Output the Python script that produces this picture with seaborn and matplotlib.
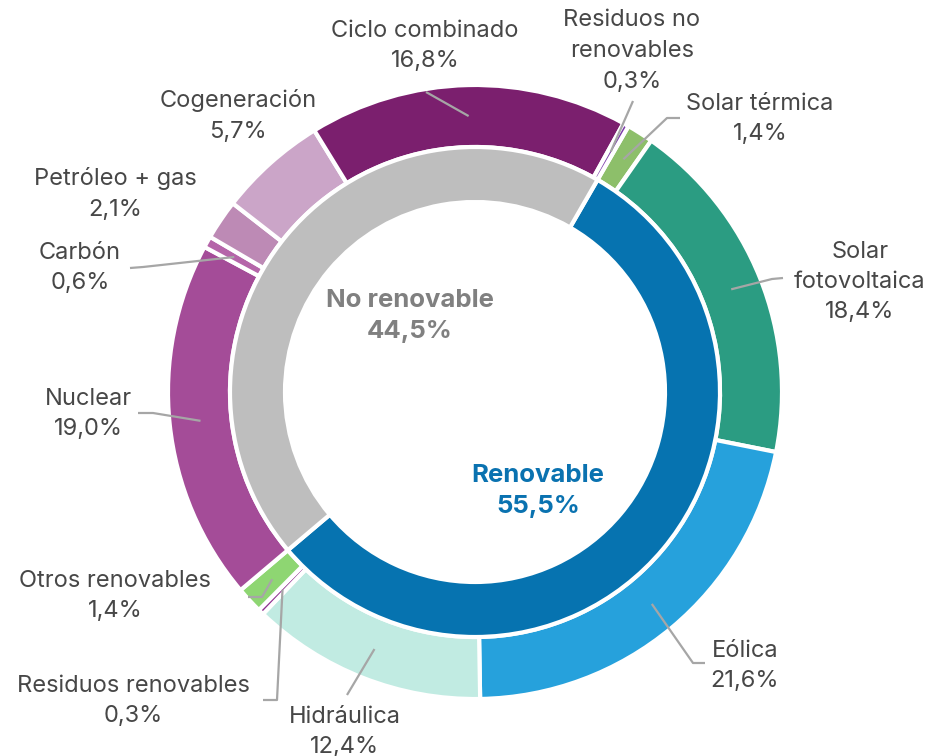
import numpy as np
import matplotlib.pyplot as plt
import seaborn as sns

# outer ring: generation mix (% of total), clockwise from "Solar térmica"
outer_labels = ["Solar térmica", "Solar\nfotovoltaica", "Eólica", "Hidráulica",
                "Residuos renovables", "Otros renovables", "Nuclear", "Carbón",
                "Petróleo + gas", "Cogeneración", "Ciclo combinado",
                "Residuos no\nrenovables"]
outer_values = [1.4, 18.4, 21.6, 12.4, 0.3, 1.4, 19.0, 0.6, 2.1, 5.7, 16.8, 0.3]
outer_colors = ["#8dbf6a", "#2b9c82", "#26a1dc", "#c1ebe2", "#8e2f8e", "#8ed672",
                "#a44c98", "#b565a9", "#bd8ab5", "#cba5c8", "#7b1f6e", "#7a3aa8"]

# inner ring
inner_labels = ["Renovable", "No renovable"]
inner_values = [55.5, 44.5]
inner_colors = ["#0673b0", "#bebebe"]
inner_text_colors = ["#0a72b0", "#808080"]

W, H = 948, 756
CX, CY = 475, 392          # centre in pixel coords (y from top)

def px(x, y):
    return x, H - y

# label layout: text centre, and extra leader points from text towards wedge
label_pos = [(760, 119), (860, 282), (745, 666), (345, 732), (133, 701), (115, 596),
             (88, 414), (80, 268), (115, 194), (238, 116), (425, 46), (632, 51)]
leader_pts = [[(680, 118), (667, 118)],
              [(783, 278), (772, 279)],
              [(705, 663), (693, 663)],
              [(347, 695)],
              [(263, 700), (277, 700)],
              [(248, 597), (262, 597)],
              [(138, 413), (153, 413)],
              [(130, 268), (143, 267)],
              None,
              None,
              [(426, 92)],
              [(633, 101)]]
inner_pos = [(538, 491), (410, 316)]

def pct(v):
    return f"{v:.1f}".replace(".", ",") + "%"

sns.set_theme(style="white")
plt.rcParams["font.family"] = ["Inter", "DejaVu Sans"]

fig = plt.figure(figsize=(W / 100, H / 100), dpi=100)
ax = fig.add_axes([0, 0, 1, 1])

center = px(CX, CY)
R_OUT, W_OUT = 307, 62
R_IN, W_IN = 245, 55

wedges, _ = ax.pie(outer_values, radius=R_OUT, center=center, startangle=60,
                   counterclock=False, colors=outer_colors,
                   wedgeprops=dict(width=W_OUT, edgecolor="white", linewidth=3))
ax.pie(inner_values, radius=R_IN, center=center, startangle=60,
       counterclock=False, colors=inner_colors,
       wedgeprops=dict(width=W_IN, edgecolor="white", linewidth=3))

r_mid = R_OUT - W_OUT / 2
for w, lab, v, pos, pts in zip(wedges, outer_labels, outer_values, label_pos, leader_pts):
    tx, ty = px(*pos)
    ax.text(tx, ty, f"{lab}\n{pct(v)}", ha="center", va="center", fontsize=17,
            color="#474747", linespacing=1.5)
    if pts:
        ang = np.deg2rad((w.theta1 + w.theta2) / 2)
        end = (center[0] + r_mid * np.cos(ang), center[1] + r_mid * np.sin(ang))
        path = [px(*p) for p in pts] + [end]
        xs, ys = zip(*path)
        ax.plot(xs, ys, color="#a6a6a6", lw=1.6, solid_capstyle="butt")

for lab, v, pos, c in zip(inner_labels, inner_values, inner_pos, inner_text_colors):
    tx, ty = px(*pos)
    ax.text(tx, ty, f"{lab}\n{pct(v)}", ha="center", va="center", fontsize=18.5,
            fontweight="bold", color=c, linespacing=1.4)

ax.set_xlim(0, W)
ax.set_ylim(0, H)
ax.set_aspect("equal")
ax.axis("off")

fig.savefig("out.png", dpi=100, facecolor="white")
